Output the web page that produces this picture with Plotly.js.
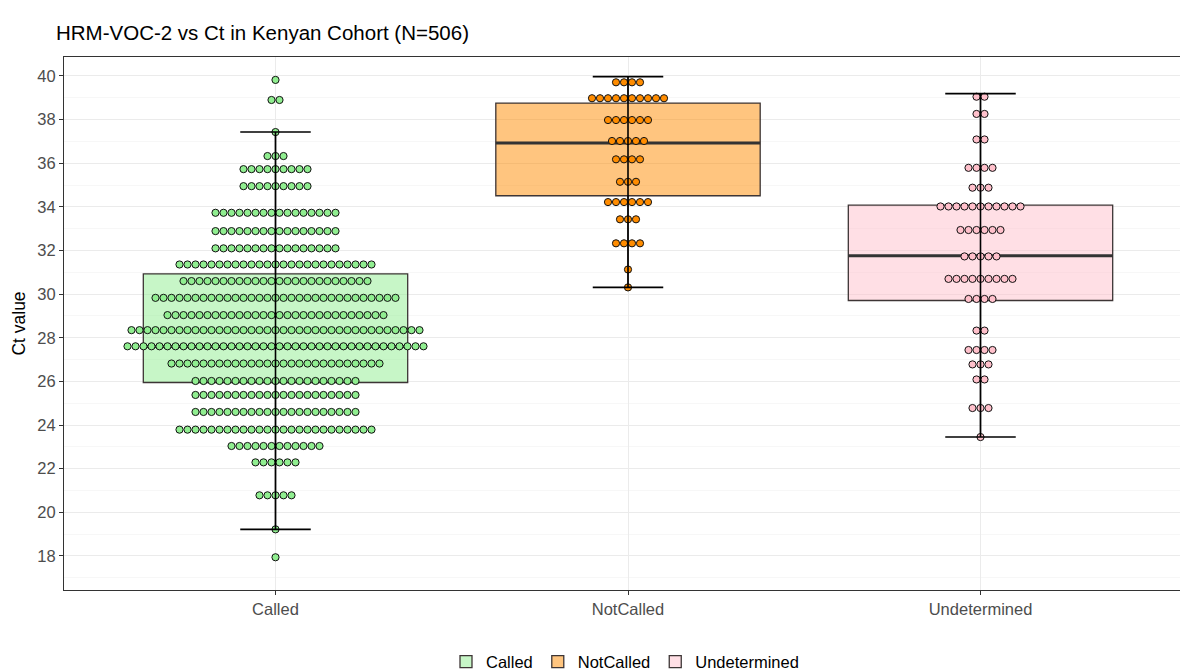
<!DOCTYPE html>
<html>
<head>
<meta charset="utf-8">
<script src="https://cdn.plot.ly/plotly-3.0.1.min.js"></script>
<style>
  html, body { margin: 0; padding: 0; overflow: hidden; background: #ffffff; }
  #chart { width: 1196px; height: 672px; }
</style>
</head>
<body>
<div id="chart"></div>
<script>
// ---------- DATA ----------
const categories = ["Called", "NotCalled", "Undetermined"];

// dot-plot bins (bin centre Ct value) and number of samples in each bin
const calledCt = [39.82, 38.9, 37.43, 36.33, 35.73, 34.95, 33.73, 32.89, 32.10, 31.36, 30.60, 29.83, 29.04, 28.35, 27.61, 26.82, 26.02, 25.38, 24.60, 23.79, 23.04, 22.29, 20.78, 19.22, 17.94];
const calledN  = [1, 2, 1, 3, 9, 9, 16, 16, 16, 25, 24, 31, 28, 37, 38, 27, 21, 21, 21, 25, 12, 6, 5, 1, 1];

const notCalledCt = [39.71, 38.98, 37.98, 37.02, 36.18, 35.15, 34.22, 33.43, 32.33, 31.13, 30.31];
const notCalledN  = [4, 10, 6, 5, 4, 3, 6, 3, 4, 1, 1];

const undetCt = [39.05, 38.26, 37.09, 35.79, 34.88, 34.02, 32.94, 31.73, 30.70, 29.78, 28.33, 27.44, 26.78, 26.09, 24.78, 23.45];
const undetN  = [2, 2, 2, 4, 3, 11, 6, 5, 9, 4, 2, 4, 3, 2, 3, 1];

// box-plot statistics per category
const q1Vals     = [25.95, 34.51, 29.71];
const medianVals = [27.60, 36.93, 31.76];
const q3Vals     = [30.93, 38.76, 34.08];
const lowerWhisk = [19.22, 30.31, 23.45];
const upperWhisk = [37.43, 39.97, 39.19];

// ---------- STYLE ----------
const dotColors = ["#90EE90", "#FF8C00", "#FFC0CB"];
const boxFills  = ["rgba(144,238,144,0.5)", "rgba(255,140,0,0.5)", "rgba(255,192,203,0.5)"];
const FONT = "Liberation Sans, Arial, sans-serif";

const W = 1196, H = 672;
const margin = {l: 64, r: 4, t: 57, b: 82};
const xRange = [0.4, 3.6];
const yRange = [16.44, 40.87];
const pxPerX = (W - margin.l - margin.r) / (xRange[1] - xRange[0]);
const dotPx = 8;                 // dot spacing in pixels
const dx = dotPx / pxPerX;       // dot spacing in x data units
const boxWidth = 0.75;
const capHalf = 0.1;

const dotSets = [[calledCt, calledN], [notCalledCt, notCalledN], [undetCt, undetN]];

const traces = [];

// boxes
categories.forEach((c, i) => {
  traces.push({
    type: "box",
    name: c,
    x: [i + 1],
    q1: [q1Vals[i]], median: [medianVals[i]], q3: [q3Vals[i]],
    lowerfence: [lowerWhisk[i]], upperfence: [upperWhisk[i]],
    width: boxWidth,
    whiskerwidth: 0,
    fillcolor: boxFills[i],
    line: {color: "#3d3535", width: 1.3},
    boxpoints: false,
    hoverinfo: "skip",
    showlegend: true,
    legendgroup: c
  });
});

// thick median lines
(function () {
  const mx = [], my = [];
  medianVals.forEach((m, i) => {
    mx.push(i + 1 - boxWidth / 2, i + 1 + boxWidth / 2, null);
    my.push(m, m, null);
  });
  traces.push({
    type: "scatter", mode: "lines", x: mx, y: my,
    line: {color: "#333333", width: 3},
    hoverinfo: "skip", showlegend: false
  });
})();

// dot plots (stacked centred)
dotSets.forEach((set, i) => {
  const [cts, ns] = set;
  const xs = [], ys = [];
  cts.forEach((ct, r) => {
    const n = ns[r];
    for (let k = 0; k < n; k++) {
      xs.push(i + 1 + (k - (n - 1) / 2) * dx);
      ys.push(ct);
    }
  });
  traces.push({
    type: "scatter", mode: "markers", x: xs, y: ys,
    marker: {size: 7.2, color: dotColors[i], line: {color: "#111111", width: 1}},
    hoverinfo: "skip", showlegend: false, legendgroup: categories[i]
  });
});

// error-bar whiskers on top
(function () {
  const ex = [], ey = [];
  categories.forEach((c, i) => {
    const cx = i + 1;
    ex.push(cx - capHalf, cx + capHalf, null, cx, cx, null, cx - capHalf, cx + capHalf, null);
    ey.push(upperWhisk[i], upperWhisk[i], null, upperWhisk[i], lowerWhisk[i], null, lowerWhisk[i], lowerWhisk[i], null);
  });
  traces.push({
    type: "scatter", mode: "lines", x: ex, y: ey,
    line: {color: "#000000", width: 1.6},
    hoverinfo: "skip", showlegend: false
  });
})();

const layout = {
  width: W, height: H,
  margin: margin,
  paper_bgcolor: "#ffffff",
  plot_bgcolor: "#ffffff",
  font: {family: FONT, color: "#000000"},
  title: {
    text: "HRM-VOC-2 vs Ct in Kenyan Cohort (N=506)",
    font: {family: FONT, size: 20.5, color: "#000000"},
    xref: "container", x: 56 / W, xanchor: "left",
    yref: "container", y: 1 - 33 / H, yanchor: "middle"
  },
  xaxis: {
    range: xRange,
    tickvals: [1, 2, 3],
    ticktext: categories,
    showgrid: true, gridcolor: "#EBEBEB", gridwidth: 1,
    zeroline: false,
    showline: true, linecolor: "#333333", linewidth: 1, mirror: true,
    ticks: "outside", ticklen: 4, tickcolor: "#333333", tickwidth: 1,
    tickfont: {family: FONT, size: 16.5, color: "#4D4D4D"}
  },
  yaxis: {
    range: yRange,
    tick0: 0, dtick: 2,
    showgrid: true, gridcolor: "#EBEBEB", gridwidth: 1,
    minor: {dtick: 1, showgrid: true, gridcolor: "#F4F4F4", gridwidth: 0.7},
    zeroline: false,
    showline: true, linecolor: "#333333", linewidth: 1, mirror: true,
    ticks: "outside", ticklen: 4, tickcolor: "#333333", tickwidth: 1,
    tickfont: {family: FONT, size: 16.5, color: "#4D4D4D"},
    title: {text: "Ct value", font: {family: FONT, size: 17.5, color: "#000000"}, standoff: 7}
  },
  showlegend: true,
  legend: {
    orientation: "h",
    xref: "container", x: 625 / W, xanchor: "center",
    yref: "container", y: 1 - 662 / H, yanchor: "middle",
    font: {family: FONT, size: 16.5, color: "#000000"},
    itemwidth: 30,
    bgcolor: "rgba(0,0,0,0)"
  }
};

Plotly.newPlot("chart", traces, layout, {displayModeBar: false, staticPlot: true});
</script>
</body>
</html>
